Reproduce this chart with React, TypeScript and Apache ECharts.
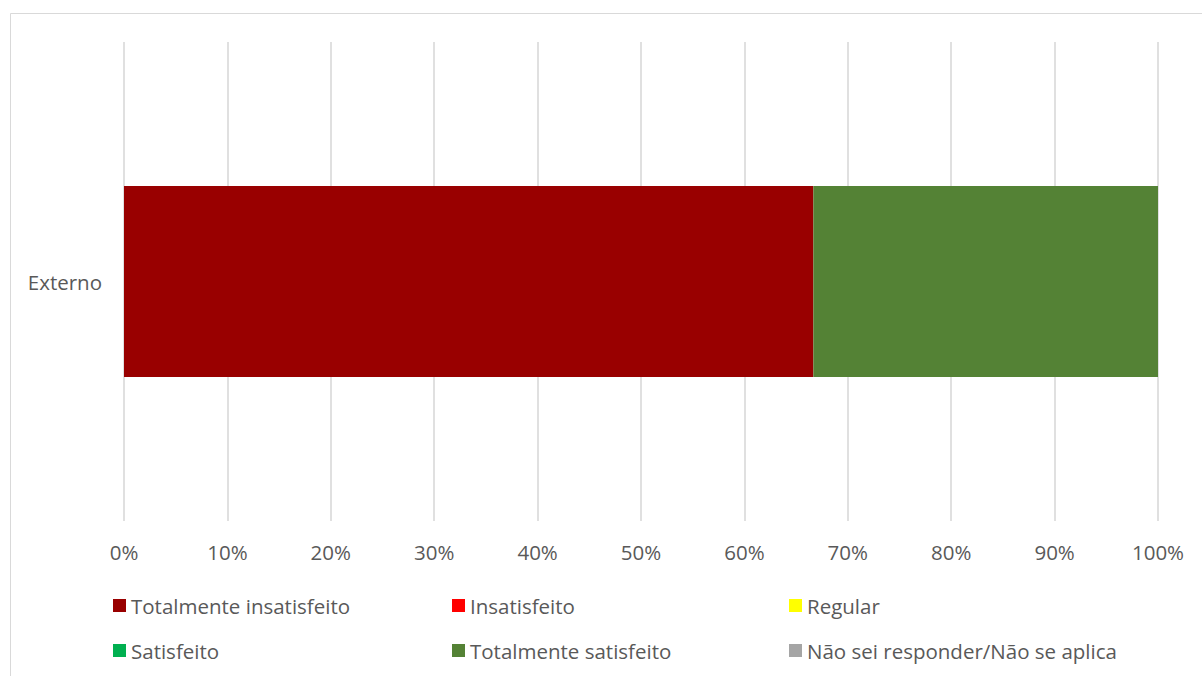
import React, { useEffect, useRef } from "react";
import * as echarts from "echarts";

const categories = ["Externo"];
const seriesNames = [
  "Totalmente insatisfeito",
  "Insatisfeito",
  "Regular",
  "Satisfeito",
  "Totalmente satisfeito",
  "Não sei responder/Não se aplica",
];
const seriesColors = ["#990000", "#FF0000", "#FFFF00", "#00B050", "#548235", "#A5A5A5"];
const totInsatisfeito = [66.67];
const insatisfeito = [0];
const regular = [0];
const satisfeito = [0];
const totSatisfeito = [33.33];
const naoSei = [0];
const xTicks = [0, 10, 20, 30, 40, 50, 60, 70, 80, 90, 100];

export default function App() {
  const ref = useRef<HTMLDivElement>(null);
  useEffect(() => {
    if (!ref.current) return;
    const chart = echarts.init(ref.current, null, { renderer: "svg" });
    const values = [totInsatisfeito, insatisfeito, regular, satisfeito, totSatisfeito, naoSei];
    const font = "'Open Sans', 'Noto Sans', sans-serif";
    const colLeft = [113, 452, 789];
    const rowTop = [595, 640];
    const legends = seriesNames.map((name, i) => ({
      left: colLeft[i % 3],
      top: rowTop[Math.floor(i / 3)],
      padding: 0,
      itemWidth: 13,
      itemHeight: 13,
      itemGap: 7,
      icon: "rect",
      textStyle: { color: "#595959", fontSize: 20.5, fontFamily: font },
      selectedMode: false,
      data: [name],
    }));
    chart.setOption({
      animation: false,
      graphic: [
        {
          type: "rect",
          shape: { x: 10.5, y: 13.5, width: 1300, height: 800 },
          style: { fill: "none", stroke: "#d9d9d9", lineWidth: 1 },
          silent: true,
        },
      ],
      grid: { left: 124, right: 44, top: 42, bottom: 155 },
      xAxis: {
        type: "value",
        min: 0,
        max: 100,
        interval: 10,
        axisLine: { show: false },
        axisTick: { show: false },
        splitLine: { lineStyle: { color: "#e0e0e0", width: 2 } },
        axisLabel: {
          formatter: (v: number) => (xTicks.includes(v) ? v + "%" : ""),
          color: "#595959",
          fontSize: 20.5,
          fontFamily: font,
          margin: 20,
        },
      },
      yAxis: {
        type: "category",
        data: categories,
        axisLine: { show: false },
        axisTick: { show: false },
        axisLabel: { color: "#595959", fontSize: 20.5, fontFamily: font, margin: 22 },
      },
      legend: legends,
      series: seriesNames.map((name, i) => ({
        name,
        type: "bar",
        stack: "total",
        data: values[i],
        barWidth: 191,
        itemStyle: { color: seriesColors[i] },
      })),
    });
    return () => chart.dispose();
  }, []);
  return (
    <div
      ref={ref}
      style={{ position: "fixed", left: 0, top: 0, width: 1202, height: 676, background: "#fff" }}
    />
  );
}
